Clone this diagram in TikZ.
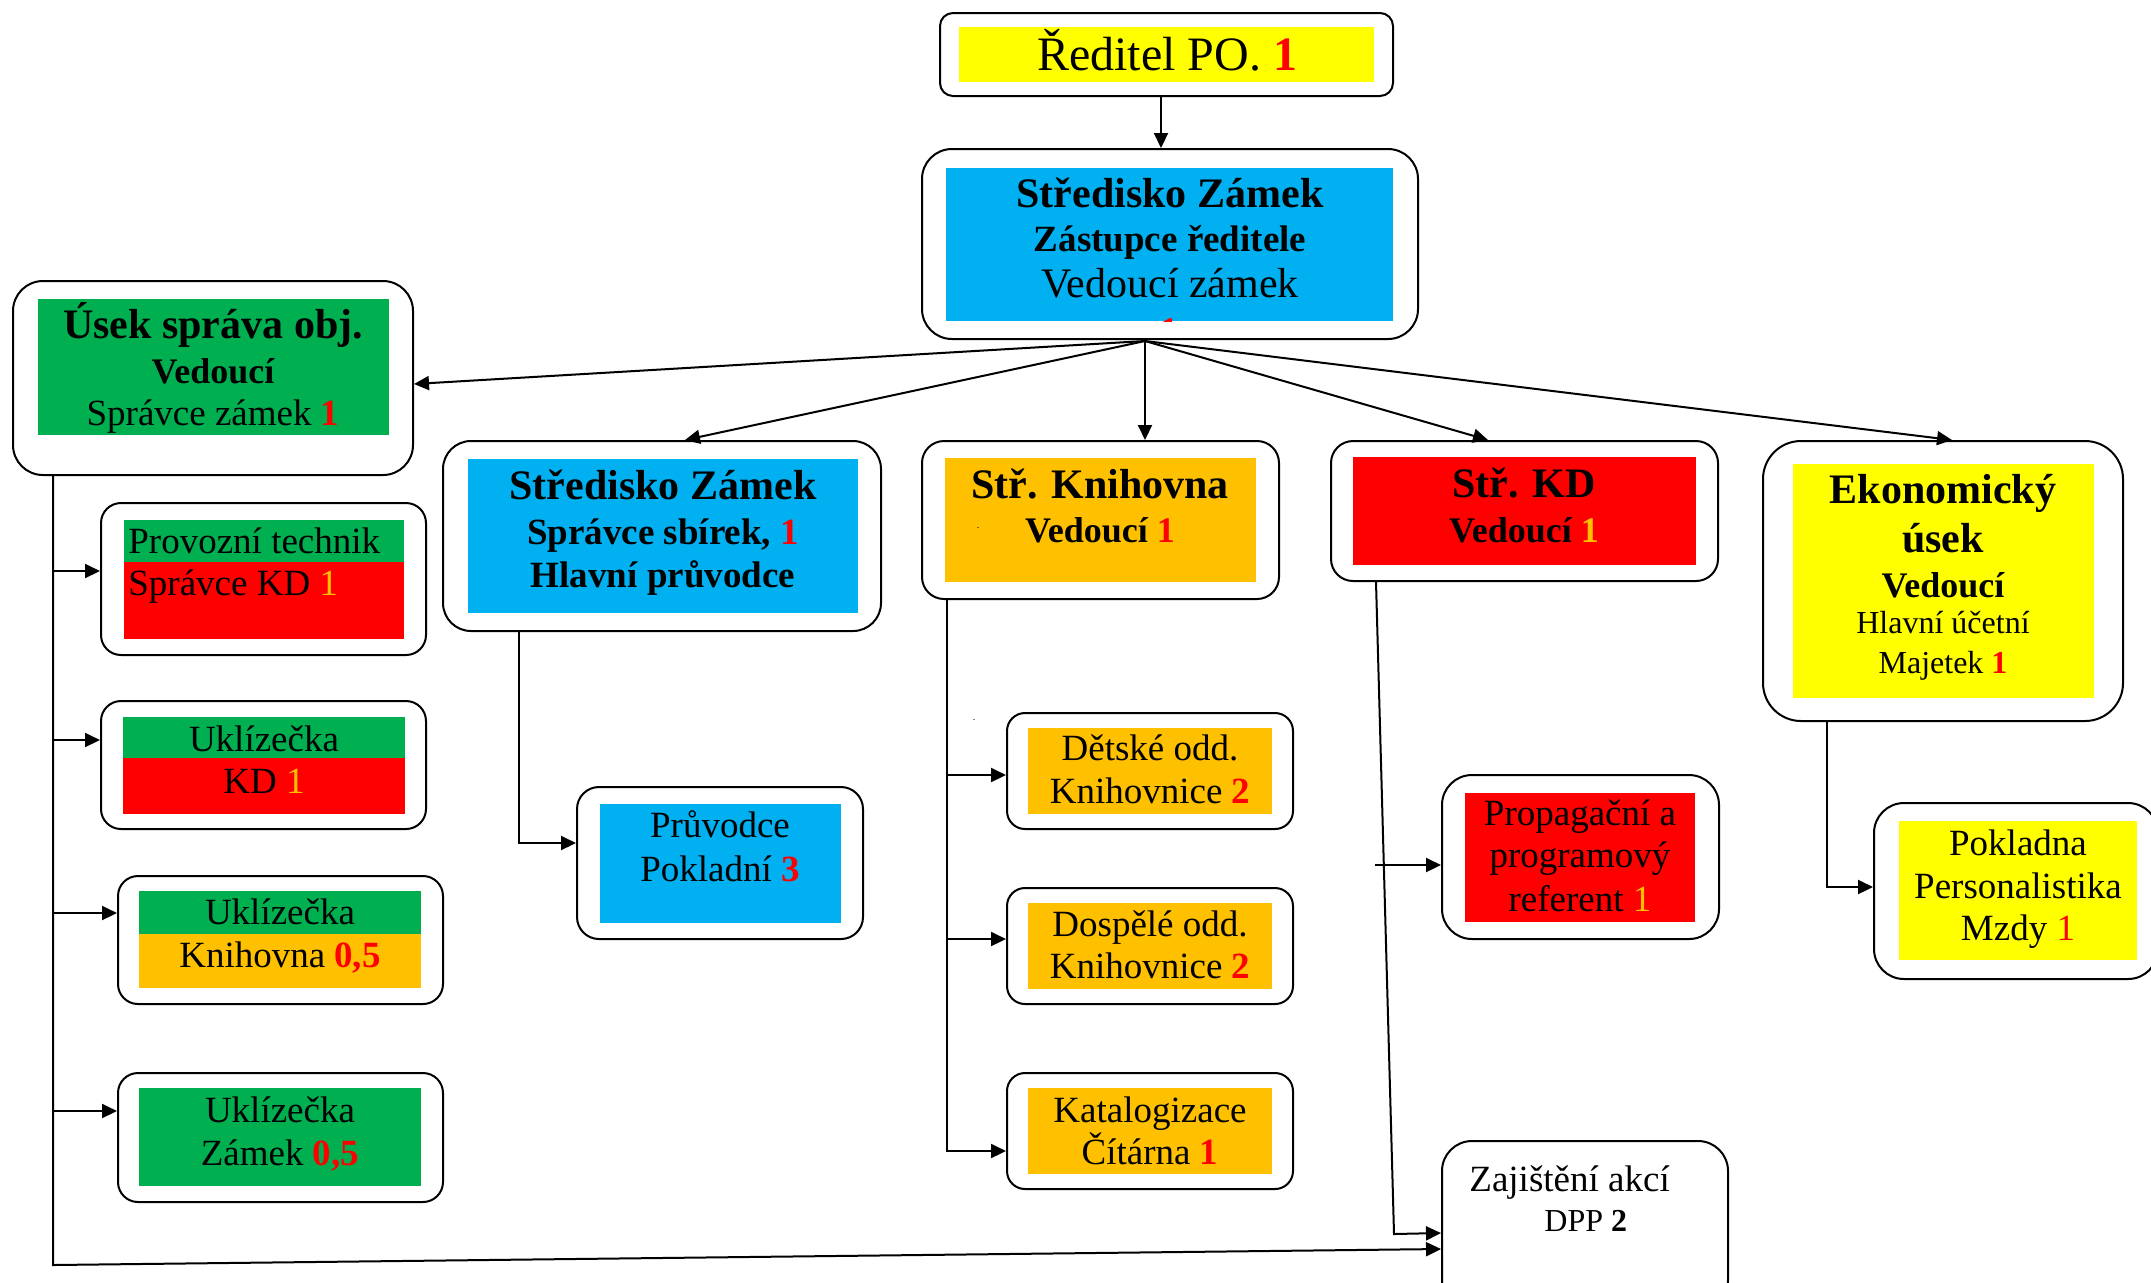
\documentclass[tikz,border=0pt]{standalone}
\usepackage{fontspec}
\setmainfont{Liberation Serif}
\usetikzlibrary{arrows.meta,calc}
\definecolor{cgreen}{HTML}{00B050}
\definecolor{cred}{HTML}{FF0000}
\definecolor{corange}{HTML}{FFC000}
\definecolor{cyellow}{HTML}{FFFF00}
\definecolor{cblue}{HTML}{00B0F0}
\newcommand\fsz[1]{\fontsize{#1}{#1}\selectfont}
\newcommand\rn[1]{\textcolor{cred}{\textbf{#1}}}
\newcommand\on[1]{\textcolor{corange}{#1}}
\newcommand\obox[6]{\node[obox, rounded corners=#6, minimum width={(#4-#2)*0.5pt}, minimum height={(#5-#3)*0.5pt}] (#1) at ({(#2+#4)/2},{(#3+#5)/2}) {};}
\newcommand\tx[5]{\node[anchor=base, inner sep=0pt, font=\fsz{#4}] (#1) at (#2,#3) {#5};}
\newcommand\txl[5]{\node[anchor=base west, inner sep=0pt, font=\fsz{#4}] (#1) at (#2,#3) {#5};}
\begin{document}
\begin{tikzpicture}[x=0.5pt,y=-0.5pt,
  obox/.style={draw, line width=1pt, inner sep=0pt},
  conn/.style={line width=1pt},
  arr/.style={conn,-{Triangle[length=7.5pt,width=7pt]}}]
\useasboundingbox (0,0) rectangle (2151,1282);
\clip (0,0) rectangle (2151,1282);

% ---- Reditel
\fill[cyellow] (959,27) rectangle (1374,82);
\obox{red}{940}{13}{1393}{96}{6.5pt}
\tx{tred}{1167}{70}{24}{Ředitel PO. \rn{1}}

% ---- Stredisko Zamek (zastupce)
\fill[cblue] (946,168) rectangle (1393,321);
\obox{sz1}{922}{149}{1418}{339}{15pt}
\tx{sz1a}{1170}{207}{21}{\bfseries Středisko Zámek}
\tx{sz1b}{1170}{251}{18.5}{\bfseries Zástupce ředitele}
\tx{sz1c}{1170}{297}{21}{Vedoucí zámek}
\begin{scope}
\clip (946,168) rectangle (1393,321);
\tx{sz1d}{1169}{346}{21}{\rn{1}}
\end{scope}

% ---- Usek sprava obj.
\fill[cgreen] (38,299) rectangle (389,435);
\obox{usek}{13}{281}{413}{475}{15pt}
\tx{useka}{213}{338}{21}{\bfseries Úsek správa obj.}
\tx{usekb}{213}{383}{18}{\bfseries Vedoucí}
\tx{usekc}{213}{425}{18.5}{Správce zámek \rn{1}}

% ---- Provozni technik
\fill[cgreen] (124,520) rectangle (404,562);
\fill[cred] (124,562) rectangle (404,639);
\obox{prov}{101}{503}{426}{655}{10pt}
\txl{prova}{128}{553}{18.5}{Provozní technik}
\txl{provb}{128}{595}{18.5}{Správce KD \on{1}}

% ---- Uklizecka KD
\fill[cgreen] (123,717) rectangle (405,758);
\fill[cred] (123,758) rectangle (405,814);
\obox{ukkd}{101}{701}{426}{829}{10pt}
\tx{ukkda}{264}{751}{18.5}{Uklízečka}
\tx{ukkdb}{264}{793}{18.5}{KD \on{1}}

% ---- Uklizecka Knihovna
\fill[cgreen] (139,891) rectangle (421,934);
\fill[corange] (139,934) rectangle (421,988);
\obox{ukkn}{118}{876}{443}{1004}{10pt}
\tx{ukkna}{280}{924}{18.5}{Uklízečka}
\tx{ukknb}{280}{967}{18.5}{Knihovna \rn{0,5}}

% ---- Uklizecka Zamek
\fill[cgreen] (139,1088) rectangle (421,1186);
\obox{ukz}{118}{1073}{443}{1202}{10pt}
\tx{ukza}{280}{1122}{18.5}{Uklízečka}
\tx{ukzb}{280}{1165}{18.5}{Zámek \rn{0,5}}

% ---- Stredisko Zamek (sbirky)
\fill[cblue] (468,459) rectangle (858,613);
\obox{sz2}{443}{441}{881}{631}{14pt}
\tx{sz2a}{663}{499}{21}{\bfseries Středisko Zámek}
\tx{sz2b}{663}{544}{18.5}{\bfseries Správce sbírek, \textcolor{cred}{1}}
\tx{sz2c}{663}{587}{18.5}{\bfseries Hlavní průvodce}

% ---- Pruvodce
\fill[cblue] (600,804) rectangle (841,923);
\obox{pruv}{577}{787}{863}{939}{11pt}
\tx{pruva}{720}{837}{18.5}{Průvodce}
\tx{pruvb}{720}{881}{18.5}{Pokladní \rn{3}}

% ---- Str. Knihovna
\fill[corange] (945,458) rectangle (1256,582);
\obox{kni}{922}{441}{1279}{599}{11pt}
\tx{knia}{1100}{498}{21}{\bfseries Stř. Knihovna}
\tx{knib}{1100}{542}{18}{\bfseries Vedoucí \textcolor{cred}{1}}
\node[inner sep=0pt, font=\fsz{5}] (dot1) at (978,528) {.};
\node[inner sep=0pt, font=\fsz{5}] (dot2) at (974,720) {.};

% ---- Detske / Dospele / Katalogizace
\fill[corange] (1028,728) rectangle (1272,814);
\obox{dets}{1007}{713}{1293}{829}{9pt}
\tx{detsa}{1150}{760}{18.5}{Dětské odd.}
\tx{detsb}{1150}{803}{18.5}{Knihovnice \rn{2}}

\fill[corange] (1028,903) rectangle (1272,989);
\obox{dosp}{1007}{888}{1293}{1004}{9pt}
\tx{dospa}{1150}{936}{18.5}{Dospělé odd.}
\tx{dospb}{1150}{978}{18.5}{Knihovnice \rn{2}}

\fill[corange] (1028,1088) rectangle (1272,1174);
\obox{kat}{1007}{1073}{1293}{1189}{9pt}
\tx{kata}{1150}{1122}{18.5}{Katalogizace}
\tx{katb}{1150}{1164}{18.5}{Čítárna \rn{1}}

% ---- Str. KD
\fill[cred] (1353,457) rectangle (1696,565);
\obox{kd}{1331}{441}{1718}{581}{11pt}
\tx{kda}{1524}{497}{21}{\bfseries Stř. KD}
\tx{kdb}{1524}{542}{18}{\bfseries Vedoucí \on{1}}

% ---- Propagacni
\fill[cred] (1465,793) rectangle (1695,922);
\obox{prop}{1442}{775}{1719}{939}{15pt}
\tx{propa}{1580}{825}{18.5}{Propagační a}
\tx{propb}{1580}{867}{18.5}{programový}
\tx{propc}{1580}{911}{18.5}{referent \on{1}}

% ---- Zajisteni akci
\obox{zaj}{1442}{1141}{1728}{1310}{15pt}
\txl{zaja}{1469}{1191}{18.5}{Zajištění akcí}
\txl{zajb}{1544}{1231}{16}{DPP \textbf{2}}

% ---- Ekonomicky usek
\fill[cyellow] (1793,464) rectangle (2094,698);
\obox{eko}{1763}{441}{2123}{721}{19pt}
\tx{ekoa}{1943}{503}{21}{\bfseries Ekonomický}
\tx{ekob}{1943}{552}{21}{\bfseries úsek}
\tx{ekoc}{1943}{597}{18}{\bfseries Vedoucí}
\tx{ekod}{1943}{633}{16}{Hlavní účetní}
\tx{ekoe}{1943}{673}{16}{Majetek \rn{1}}

% ---- Pokladna
\fill[cyellow] (1899,821) rectangle (2137,960);
\obox{pokl}{1874}{803}{2158}{979}{15pt}
\tx{pokla}{2018}{855}{18.5}{Pokladna}
\tx{poklb}{2018}{898}{18.5}{Personalistika}
\tx{poklc}{2018}{940}{18.5}{Mzdy \textcolor{cred}{1}}

% ================= connectors
\coordinate (r0) at ($(red.south)+(-5.5,0)$);
\draw[arr] (r0) -- (r0 |- sz1.north);

\coordinate (fan) at ($(sz1.south)+(-25,1)$);
\draw[arr] (fan) -- ($(usek.east)+(0,6)$);
\draw[arr] (fan) -- ($(sz2.north)+(23,0)$);
\draw[arr] (fan) -- (fan |- kni.north);
\draw[arr] (fan) -- ($(kd.north)+(-36.5,0)$);
\draw[arr] (fan) -- ($(eko.north)+(9,0)$);

% left trunk
\coordinate (ut) at ($(usek.south)+(-160,0)$);
\coordinate (ub) at (53,1265);
\coordinate (zin1) at ($(zaj.north west)+(0,109)$);
\draw[arr] (ut) -- (ub) -- (zin1);
\coordinate (pin) at ($(prov.west)+(0,-8)$);
\coordinate (ukkdin) at ($(ukkd.west)+(0,-25)$);
\coordinate (ukknin) at ($(ukkn.west)+(0,-27)$);
\coordinate (ukzin) at ($(ukz.west)+(0,-26.5)$);
\draw[arr] (ut |- pin) -- (pin);
\draw[arr] (ut |- ukkdin) -- (ukkdin);
\draw[arr] (ut |- ukknin) -- (ukknin);
\draw[arr] (ut |- ukzin) -- (ukzin);

% Stredisko Zamek -> Pruvodce
\coordinate (s2s) at ($(sz2.south)+(-143,0)$);
\coordinate (pvin) at ($(pruv.west)+(0,-20)$);
\draw[arr] (s2s) |- (pvin);

% Knihovna tree
\coordinate (ks) at ($(kni.south)+(-153.5,0)$);
\coordinate (din) at ($(dets.west)+(0,4)$);
\coordinate (dsin) at ($(dosp.west)+(0,-7)$);
\coordinate (kin) at ($(kat.west)+(0,20)$);
\draw[arr] (ks) |- (kin);
\draw[arr] (ks |- din) -- (din);
\draw[arr] (ks |- dsin) -- (dsin);

% KD tree
\coordinate (kds) at ($(kd.south)+(-148.5,0)$);
\coordinate (kdbend) at (1394,1234);
\coordinate (zin2) at ($(zaj.north west)+(0,93)$);
\draw[arr] (kds) -- (kdbend) -- (zin2);
\coordinate (ps) at (1375,865);
\draw[arr] (ps) -- ($(prop.west)+(0,8)$);

% Ekonomicky -> Pokladna
\coordinate (es) at ($(eko.south)+(-116,0)$);
\coordinate (pkin) at ($(pokl.west)+(0,-4)$);
\draw[arr] (es) |- (pkin);
\end{tikzpicture}
\end{document}
